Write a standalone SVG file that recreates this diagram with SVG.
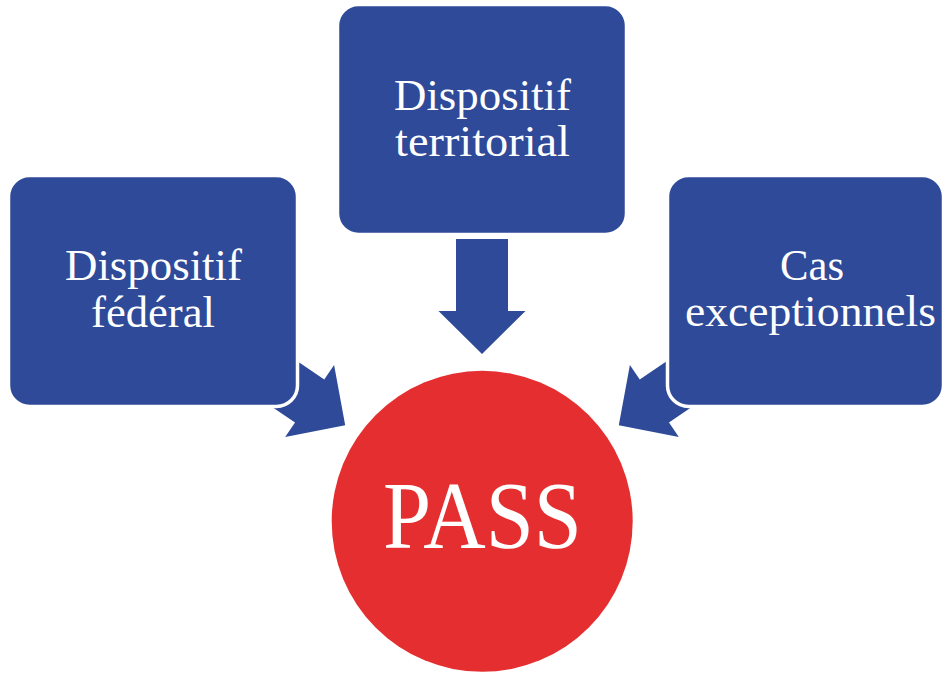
<svg xmlns="http://www.w3.org/2000/svg" width="943" height="673" viewBox="0 0 943 673">
  <defs>
    <style>
      .box { fill: #2E4A98; stroke: #FFFFFF; stroke-width: 3.5; }
      .arrow { fill: #2E4A98; }
      .lbl { font-family: "Liberation Serif", "DejaVu Serif", serif; font-size: 44px; fill: #FFFFFF; text-anchor: middle; }
      .big { font-family: "Liberation Serif", "DejaVu Serif", serif; font-size: 96px; fill: #FFFFFF; text-anchor: middle; }
    </style>
    <path id="blockArrow" d="M -115 -26 L -43 -26 L -43 -43.5 L 0 0 L -43 43.5 L -43 26 L -115 26 Z"/>
  </defs>
  <rect width="943" height="673" fill="#FFFFFF"/>

  <g id="connectors">
    <use href="#blockArrow" class="arrow" transform="translate(345.2,425.2) rotate(34.2)"/>
    <use href="#blockArrow" class="arrow" transform="translate(482,354) rotate(90)"/>
    <use href="#blockArrow" class="arrow" transform="translate(618.8,425.2) rotate(145.8)"/>
  </g>

  <g id="node-federal">
    <rect class="box" x="8.5" y="175.5" width="289" height="231" rx="21" ry="21"/>
    <text class="lbl" x="153.5" y="280" textLength="177" lengthAdjust="spacingAndGlyphs">Dispositif</text>
    <text class="lbl" x="153" y="327" textLength="124" lengthAdjust="spacingAndGlyphs">fédéral</text>
  </g>

  <g id="node-territorial">
    <rect class="box" x="337.5" y="4.5" width="289" height="230" rx="21" ry="21"/>
    <text class="lbl" x="482.5" y="110" textLength="177" lengthAdjust="spacingAndGlyphs">Dispositif</text>
    <text class="lbl" x="482.5" y="156" textLength="175" lengthAdjust="spacingAndGlyphs">territorial</text>
  </g>

  <g id="node-exceptionnels">
    <rect class="box" x="667.5" y="175.5" width="276" height="231" rx="21" ry="21"/>
    <text class="lbl" x="812" y="280" textLength="64" lengthAdjust="spacingAndGlyphs">Cas</text>
    <text class="lbl" x="810.5" y="326" textLength="251" lengthAdjust="spacingAndGlyphs">exceptionnels</text>
  </g>

  <g id="node-pass">
    <circle cx="482.2" cy="521.3" r="150.5" fill="#E52E30"/>
    <text class="big" x="482.5" y="548" textLength="199" lengthAdjust="spacingAndGlyphs">PASS</text>
  </g>
</svg>
